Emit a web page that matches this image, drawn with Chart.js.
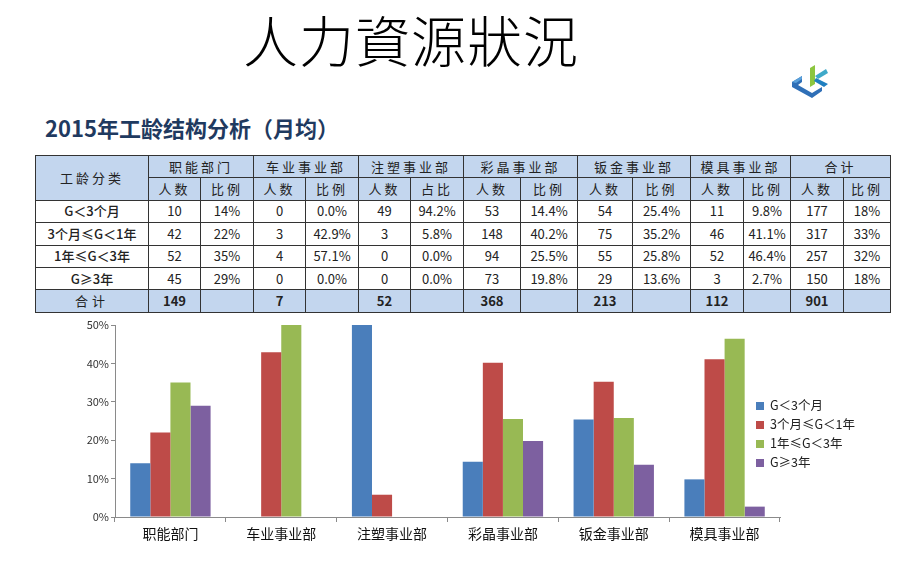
<!DOCTYPE html>
<html>
<head>
<meta charset="utf-8">
<script src="https://cdn.jsdelivr.net/npm/chart.js@4/dist/chart.umd.min.js"></script>
<style>
  html, body { margin:0; padding:0; background:#fff; }
  body { width:920px; height:575px; position:relative; overflow:hidden; font-family:"Noto Sans CJK SC","Noto Sans",sans-serif; }
  #title { position:absolute; left:0; width:822px; top:6px; text-align:center; font-size:55px; line-height:64px; color:#000; font-family:"Noto Sans CJK TC","Noto Sans CJK SC",serif; font-weight:300; letter-spacing:1px; }
  #subtitle { position:absolute; left:45px; top:113px; font-size:22px; font-weight:bold; color:#1F3A60; line-height:28px; }
  #logo { position:absolute; left:788px; top:60px; }
  table { position:absolute; left:35px; top:155px; border-collapse:collapse; table-layout:fixed; font-size:13px; color:#222; }
  td { border:1px solid #333; text-align:center; padding:0; height:21.4px; line-height:18px; white-space:nowrap; overflow:hidden; }
  td.h { background:#C3D6EE; letter-spacing:3px; }
  td.lab { font-weight:500; letter-spacing:0; }
  td.tot { background:#C3D6EE; font-weight:bold; }
  #legend { position:absolute; left:756px; top:395px; font-size:12.5px; color:#222; }
  .li { height:19px; line-height:19px; white-space:nowrap; }
  .sw { display:inline-block; width:8px; height:8px; margin-right:6px; vertical-align:0px; }
  #chartWrap { position:absolute; left:76px; top:315px; width:714px; height:240px; }
</style>
</head>
<body>
<div id="title">人力資源狀況</div>
<svg id="logo" width="48" height="40" viewBox="0 0 48 40">
  <polygon points="4,22 14,16 14,22 10,25 24,33 34,27 34,31 24,38 4,27" fill="#2F6FB7"/>
  <polygon points="4,22 14,16 14,19 8,23" fill="#5AA0DA"/>
  <polygon points="22,8 27,5 27,24 22,27" fill="#8CC63F"/>
  <polygon points="27,16 38,9 40,13 30,19" fill="#3FA9C9"/>
  <polygon points="28,18 40,24 36,27 26,21" fill="#1F7FC0"/>
</svg>
<div id="subtitle">2015年工龄结构分析（月均）</div>
<table id="tbl"></table>
<div id="chartWrap"><canvas id="c" width="714" height="240"></canvas></div>
<div id="legend"></div>
<script>
// ---- data ----
const departments = ['职能部门','车业事业部','注塑事业部','彩晶事业部','钣金事业部','模具事业部'];
const totalHeader = '合计';
const ratioHeaders = ['比例','比例','占比','比例','比例','比例','比例'];
const categories = ['G＜3个月','3个月≤G＜1年','1年≤G＜3年','G≥3年'];
const legendLabels = ['G＜3个月','3个月≤G＜1年','1年≤G＜3年','G≥3年'];

// counts / ratios per category row: six departments then total
const lt3mCounts   = [10, 0, 49, 53, 54, 11, 177];
const lt3mRatios   = ['14%','0.0%','94.2%','14.4%','25.4%','9.8%','18%'];
const lt1yCounts   = [42, 3, 3, 148, 75, 46, 317];
const lt1yRatios   = ['22%','42.9%','5.8%','40.2%','35.2%','41.1%','33%'];
const lt3yCounts   = [52, 4, 0, 94, 55, 52, 257];
const lt3yRatios   = ['35%','57.1%','0.0%','25.5%','25.8%','46.4%','32%'];
const ge3yCounts   = [45, 0, 0, 73, 29, 3, 150];
const ge3yRatios   = ['29%','0.0%','0.0%','19.8%','13.6%','2.7%','18%'];
const totalCounts  = [149, 7, 52, 368, 213, 112, 901];

const yTicks = [0,10,20,30,40,50];
const colors = ['#4A7EBB','#BE4B48','#98B954','#7D60A0'];

// ---- table ----
const rowsCounts = [lt3mCounts, lt1yCounts, lt3yCounts, ge3yCounts];
const rowsRatios = [lt3mRatios, lt1yRatios, lt3yRatios, ge3yRatios];
const colW = [113,52,53,52,53,52,53,57,57,55,58,53,47,53,47];
const tbl = document.getElementById('tbl');
let html = '<colgroup>' + colW.map(w=>'<col style="width:'+w+'px">').join('') + '</colgroup>';
html += '<tr><td class="h" rowspan="2">工龄分类</td>';
departments.concat([totalHeader]).forEach(d => { html += '<td class="h" colspan="2">'+d+'</td>'; });
html += '</tr><tr>';
ratioHeaders.forEach(r => { html += '<td class="h">人数</td><td class="h">'+r+'</td>'; });
html += '</tr>';
categories.forEach((c,i) => {
  html += '<tr><td class="lab">'+c+'</td>';
  rowsCounts[i].forEach((n,j) => { html += '<td>'+n+'</td><td>'+rowsRatios[i][j]+'</td>'; });
  html += '</tr>';
});
html += '<tr><td class="h" style="letter-spacing:4px">合计</td>';
totalCounts.forEach(n => { html += '<td class="tot">'+n+'</td><td class="tot"></td>'; });
html += '</tr>';
tbl.innerHTML = html;

// ---- legend ----
document.getElementById('legend').innerHTML = legendLabels.map((l,i)=>
  '<div class="li"><span class="sw" style="background:'+colors[i]+'"></span>'+l+'</div>').join('');

// ---- chart ----
const fam = '"Noto Sans CJK SC","Noto Sans",sans-serif';
new Chart(document.getElementById('c'), {
  type: 'bar',
  data: {
    labels: departments,
    datasets: rowsRatios.map((r,i) => ({
      label: legendLabels[i],
      data: r.slice(0, departments.length).map(v => parseFloat(v)),
      backgroundColor: colors[i],
      borderWidth: 0
    }))
  },
  options: {
    responsive: false,
    animation: false,
    layout: { padding: { top: 10, right: 10, left: 0, bottom: 0 } },
    plugins: { legend: { display: false }, tooltip: { enabled: false } },
    datasets: { bar: { categoryPercentage: 0.725, barPercentage: 1.0 } },
    scales: {
      x: {
        grid: { drawOnChartArea: false, tickLength: 5, color: '#8a8a8a' },
        border: { color: '#8a8a8a' },
        ticks: { color: '#111', font: { size: 14, family: fam }, padding: 3, maxRotation: 0, autoSkip: false },
        afterFit(s) { s.height = 38; }
      },
      y: {
        min: yTicks[0], max: yTicks[yTicks.length-1],
        afterBuildTicks(s) { s.ticks = yTicks.map(v => ({ value: v })); },
        ticks: { callback: v => v + '%', color: '#333', font: { size: 11, family: fam }, padding: 2 },
        grid: { drawOnChartArea: false, tickLength: 4, color: '#8a8a8a' },
        border: { color: '#8a8a8a' },
        afterFit(s) { s.width = 39; }
      }
    }
  }
});
</script>
</body>
</html>
